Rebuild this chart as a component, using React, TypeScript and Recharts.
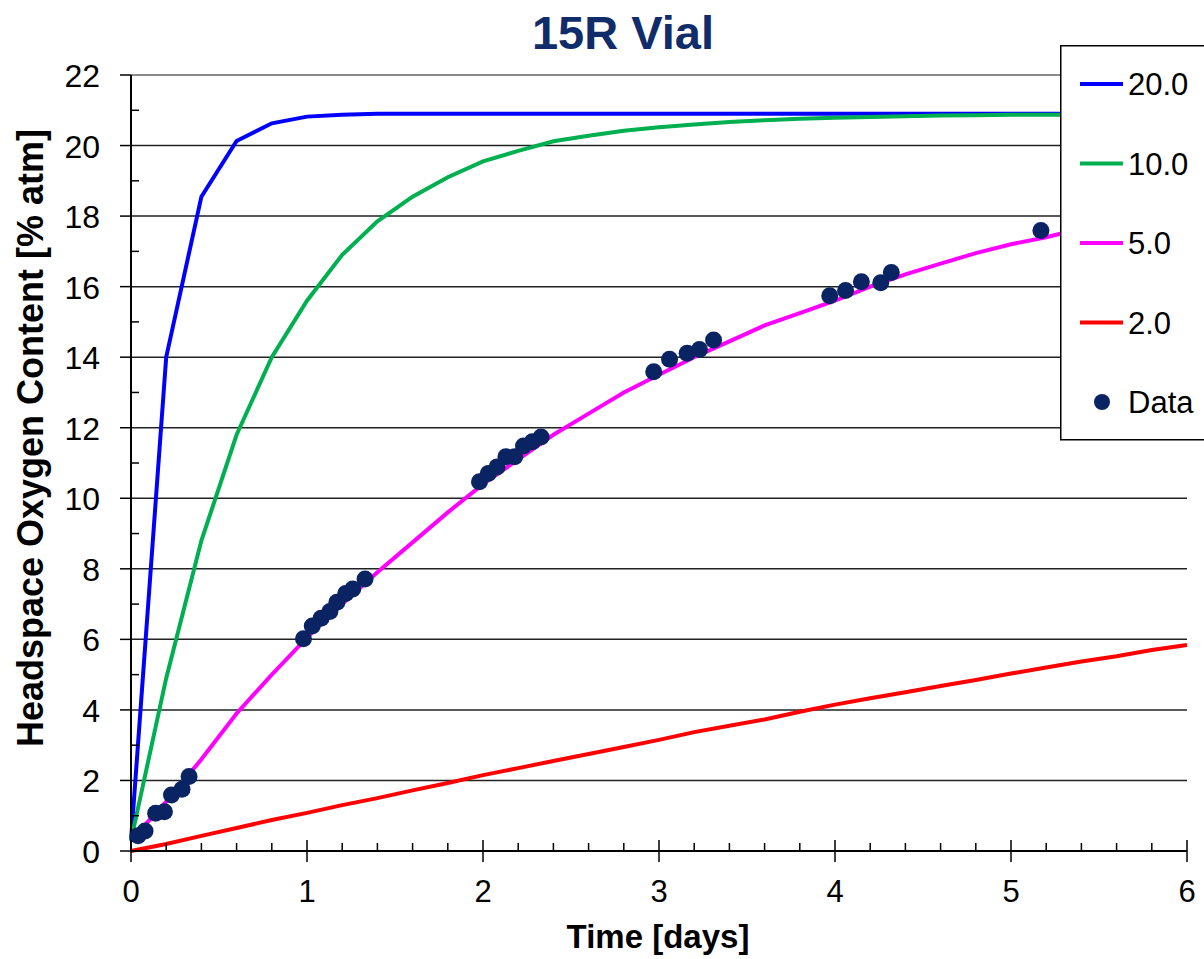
import React from "react";
import { ComposedChart, Line, Scatter, XAxis, YAxis, CartesianGrid, ReferenceLine } from "recharts";

// model time grid [days]
const timeGrid = [
  0, 0.2, 0.4, 0.6, 0.8, 1.0, 1.2, 1.4, 1.6, 1.8, 2.0, 2.2, 2.4, 2.6, 2.8, 3.0,
  3.2, 3.4, 3.6, 3.8, 4.0, 4.2, 4.4, 4.6, 4.8, 5.0, 5.2, 5.4, 5.6, 5.8, 6.0,
];

// modelled headspace O2 [% atm] for each rate
const rate20 = [
  0.3, 14.0, 18.55, 20.13, 20.63, 20.82, 20.87, 20.9, 20.9, 20.9, 20.9, 20.9, 20.9, 20.9, 20.9, 20.9,
  20.9, 20.9, 20.9, 20.9, 20.9, 20.9, 20.9, 20.9, 20.9, 20.9, 20.9, 20.9, 20.9, 20.9, 20.9,
];
const rate10 = [
  0.3, 4.9, 8.8, 11.8, 14.0, 15.6, 16.9, 17.85, 18.55, 19.1, 19.55, 19.85, 20.12, 20.28, 20.42, 20.52,
  20.6, 20.67, 20.72, 20.76, 20.79, 20.81, 20.83, 20.85, 20.86, 20.87, 20.87, 20.87, 20.87, 20.87, 20.87,
];
const rate5 = [
  0.3, 1.4, 2.6, 3.9, 5.0, 6.05, 7.0, 7.9, 8.75, 9.6, 10.4, 11.1, 11.8, 12.4, 13.0, 13.5,
  14.0, 14.45, 14.9, 15.25, 15.6, 16.0, 16.35, 16.65, 16.95, 17.2, 17.4, 17.65, 17.85, 18.05, 18.25,
];
const rate2 = [
  0, 0.2, 0.43, 0.65, 0.88, 1.08, 1.3, 1.5, 1.72, 1.93, 2.15, 2.35, 2.55, 2.75, 2.95, 3.15,
  3.37, 3.55, 3.73, 3.95, 4.15, 4.33, 4.5, 4.68, 4.85, 5.03, 5.2, 5.37, 5.52, 5.7, 5.84,
];

// measured points
const obsTime = [
  0.04, 0.08, 0.14, 0.19, 0.23, 0.29, 0.33,
  0.98, 1.03, 1.08, 1.13, 1.17, 1.22, 1.26, 1.33,
  1.98, 2.03, 2.08, 2.13, 2.18, 2.23, 2.28, 2.33,
  2.97, 3.06, 3.16, 3.23, 3.31,
  3.97, 4.06, 4.15, 4.26, 4.32,
  5.17,
];
const obsO2 = [
  0.43, 0.57, 1.07, 1.11, 1.59, 1.75, 2.11,
  6.02, 6.38, 6.6, 6.79, 7.05, 7.3, 7.43, 7.71,
  10.47, 10.7, 10.89, 11.18, 11.18, 11.48, 11.6, 11.74,
  13.59, 13.94, 14.11, 14.22, 14.49,
  15.74, 15.89, 16.14, 16.11, 16.4,
  17.59,
];

const xTicks = timeGrid;
const yTicks = [0, 1, 2, 3, 4, 5, 6, 7, 8, 9, 10, 11, 12, 13, 14, 15, 16, 17, 18, 19, 20, 21, 22];
const gridValues = [2, 4, 6, 8, 10, 12, 14, 16, 18, 20];

const series = [
  { key: "k20", name: "20.0", color: "#0000FF" },
  { key: "k10", name: "10.0", color: "#00B050" },
  { key: "k5", name: "5.0", color: "#FF00FF" },
  { key: "k2", name: "2.0", color: "#FF0000" },
];

const modelRows = timeGrid.map((t, i) => ({ t, k20: rate20[i], k10: rate10[i], k5: rate5[i], k2: rate2[i] }));
const obsRows = obsTime.map((t, i) => ({ t, y: obsO2[i] }));

const FONT = "'Liberation Sans', Arial, sans-serif";
const NAVY = "#0a2463";

const isMajor = (v: number) => Math.abs(v - Math.round(v)) < 1e-6;

const XTick = (props: any) => {
  const { x, y, payload } = props;
  const v = payload.value;
  if (isMajor(v)) {
    return (
      <g>
        <line x1={x} x2={x} y1={y - 11} y2={y + 11} stroke="#000" strokeWidth={1.5} />
        <text x={x} y={y + 51} textAnchor="middle" fontSize={31} fontFamily={FONT} fill="#000">
          {Math.round(v)}
        </text>
      </g>
    );
  }
  return <line x1={x} x2={x} y1={y - 8} y2={y} stroke="#000" strokeWidth={1.5} />;
};

const YTick = (props: any) => {
  const { x, y, payload } = props;
  const v = payload.value;
  if (v % 2 === 0) {
    return (
      <g>
        <line x1={x - 11} x2={x} y1={y} y2={y} stroke="#000" strokeWidth={1.5} />
        <text x={x - 31} y={y + 12} textAnchor="end" fontSize={32} fontFamily={FONT} fill="#000">
          {v}
        </text>
      </g>
    );
  }
  return <line x1={x} x2={x + 8} y1={y} y2={y} stroke="#000" strokeWidth={1.5} />;
};

function LegendBox() {
  const items = [...series.map((s) => ({ ...s, dot: false })), { key: "obs", name: "Data", color: NAVY, dot: true }];
  return (
    <svg width={170} height={396} style={{ position: "absolute", left: 1060, top: 45 }}>
      <rect x={0.75} y={0.75} width={168} height={394} fill="#fff" stroke="#000" strokeWidth={1.5} />
      {items.map((it, i) => {
        const cy = 39 + i * 79.5;
        return (
          <g key={it.key}>
            {it.dot ? (
              <circle cx={42} cy={cy} r={8} fill={it.color} />
            ) : (
              <line x1={20} x2={63} y1={cy} y2={cy} stroke={it.color} strokeWidth={4} />
            )}
            <text x={68} y={cy + 11} fontSize={31} fontFamily={FONT} fill="#000">
              {it.name}
            </text>
          </g>
        );
      })}
    </svg>
  );
}

export default function App() {
  return (
    <div style={{ position: "absolute", left: 0, top: 0, width: 1204, height: 959, overflow: "hidden", background: "#fff" }}>
      <ComposedChart
        width={1204}
        height={959}
        data={modelRows}
        margin={{ top: 75, right: 17, left: 71, bottom: 78 }}
      >
        <CartesianGrid vertical={false} horizontalValues={gridValues} stroke="#222" strokeWidth={1.5} />
        <ReferenceLine y={22} stroke="#8a8a8a" strokeWidth={2} />
        <XAxis
          dataKey="t"
          type="number"
          domain={[0, 6]}
          ticks={xTicks}
          interval={0}
          height={30}
          tickSize={0}
          tickMargin={0}
          tickLine={false}
          tick={<XTick />}
          axisLine={{ stroke: "#000", strokeWidth: 2 }}
        />
        <YAxis
          type="number"
          domain={[0, 22]}
          ticks={yTicks}
          interval={0}
          width={60}
          tickSize={0}
          tickMargin={0}
          tickLine={false}
          tick={<YTick />}
          axisLine={{ stroke: "#000", strokeWidth: 2 }}
        />
        {series.map((s) => (
          <Line
            key={s.key}
            type="linear"
            dataKey={s.key}
            stroke={s.color}
            strokeWidth={4}
            dot={false}
            activeDot={false}
            isAnimationActive={false}
          />
        ))}
        <Scatter
          data={obsRows}
          dataKey="y"
          fill={NAVY}
          isAnimationActive={false}
          shape={(p: any) => <circle cx={p.cx} cy={p.cy} r={8.5} fill={NAVY} />}
        />
      </ComposedChart>

      <svg width={1204} height={959} style={{ position: "absolute", left: 0, top: 0, pointerEvents: "none" }}>
        <text x={623} y={49} textAnchor="middle" fontSize={47} fontWeight="bold" fontFamily={FONT} fill="#102c6b">
          15R Vial
        </text>
        <text x={658} y={948} textAnchor="middle" fontSize={33} fontWeight="bold" fontFamily={FONT} fill="#000">
          Time [days]
        </text>
        <text
          x={43}
          y={438}
          textAnchor="middle"
          fontSize={36}
          fontWeight="bold"
          fontFamily={FONT}
          fill="#000"
          transform="rotate(-90 43 438)"
        >
          Headspace Oxygen Content [% atm]
        </text>
      </svg>

      <LegendBox />
    </div>
  );
}
